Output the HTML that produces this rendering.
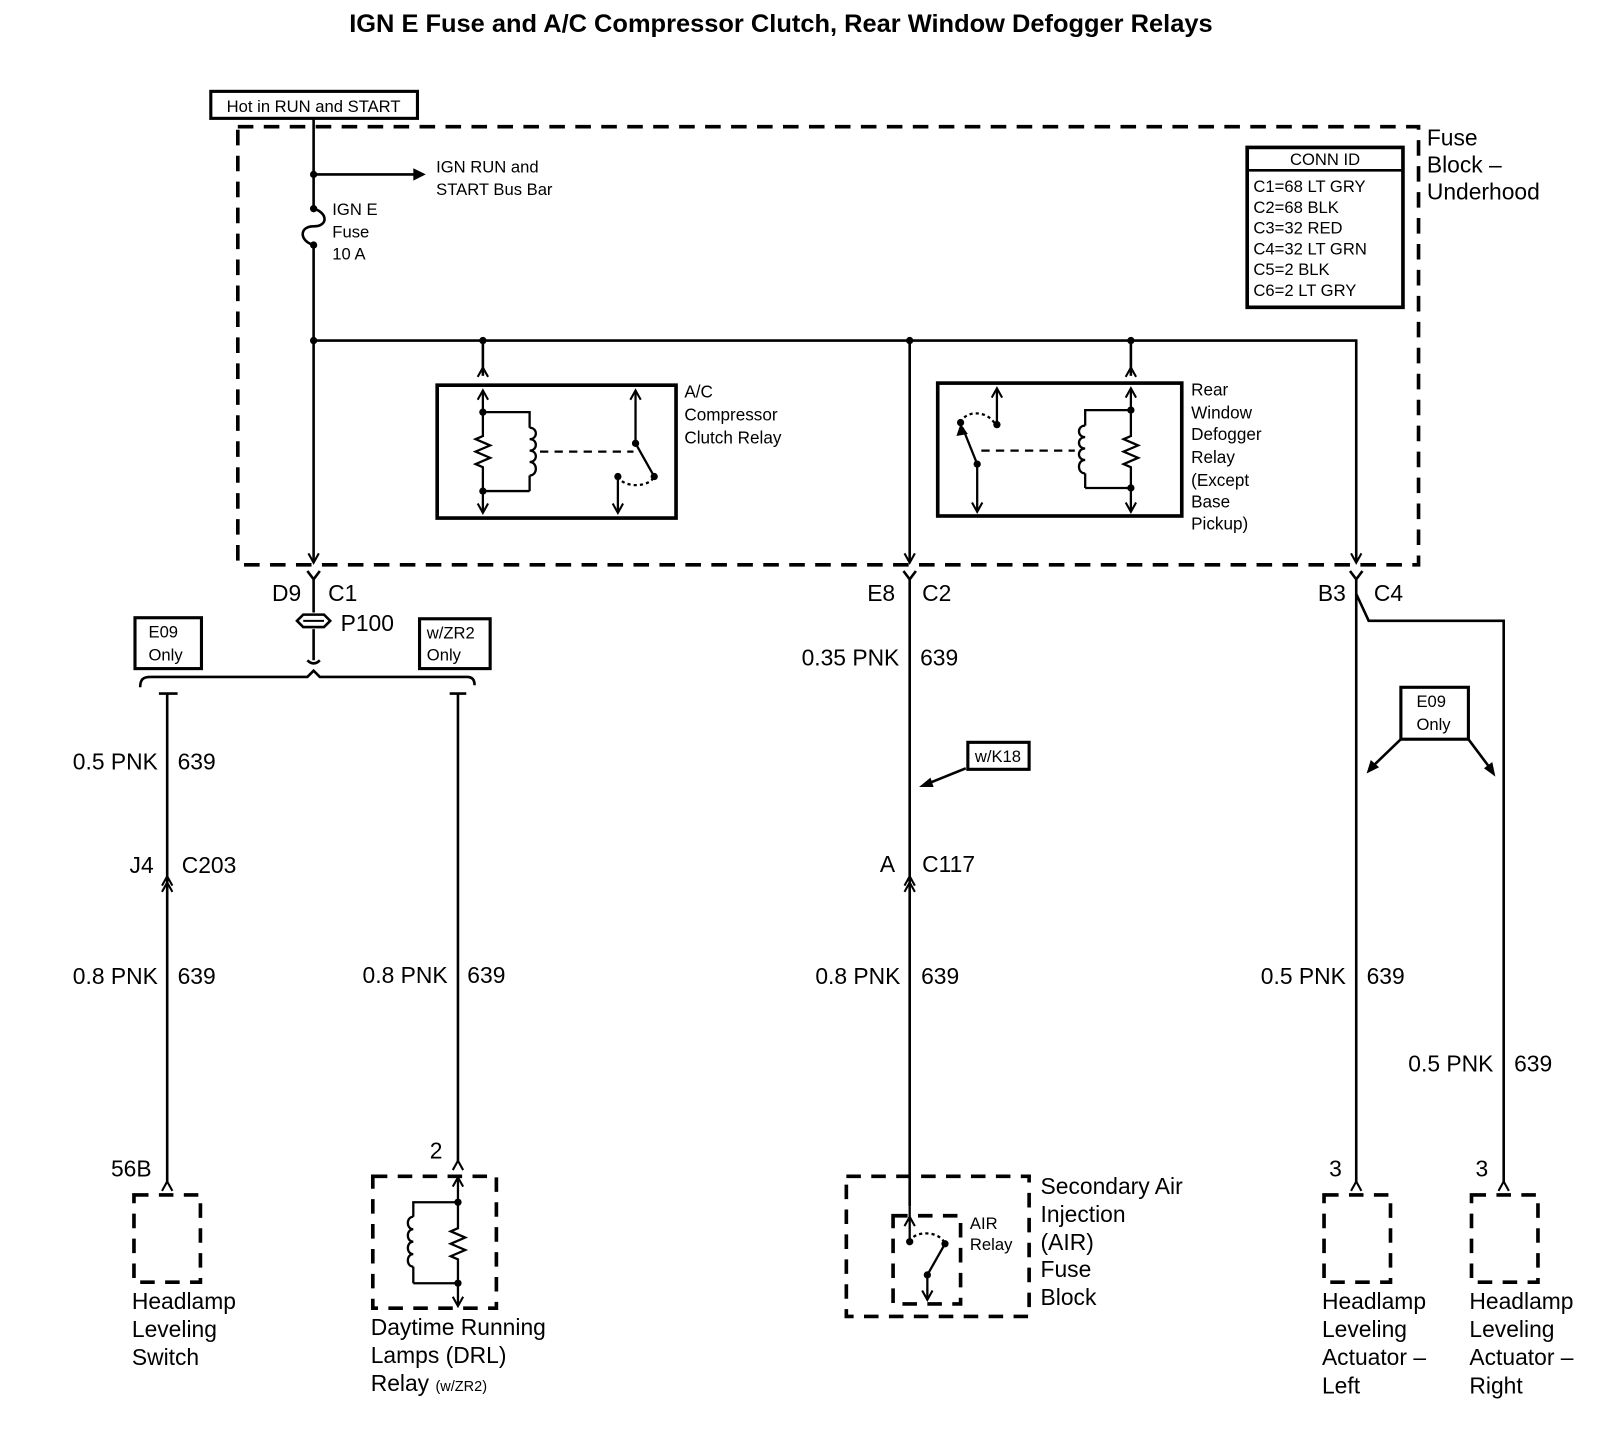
<!DOCTYPE html>
<html><head><meta charset="utf-8"><style>
html,body{margin:0;padding:0;background:#fff;}
svg{display:block;}
text{font-family:"Liberation Sans",sans-serif;fill:#000;}
</style></head><body>
<svg width="1620" height="1440" viewBox="0 0 1560 1387" preserveAspectRatio="none" xmlns="http://www.w3.org/2000/svg">
<defs>
<path id="dn" d="M-5,-9 L0,0 L5,-9" fill="none" stroke="#000" stroke-width="2"/>
<path id="up" d="M-5,9 L0,0 L5,9" fill="none" stroke="#000" stroke-width="2"/>
</defs>
<text x="752" y="31" font-size="24.5" font-weight="bold" text-anchor="middle">IGN E Fuse and A/C Compressor Clutch, Rear Window Defogger Relays</text>

<rect x="203" y="88" width="199" height="26" fill="none" stroke="#000" stroke-width="3"/>
<text x="302" y="108" font-size="16" text-anchor="middle">Hot in RUN and START</text>

<rect x="229" y="122" width="1137" height="422" fill="none" stroke="#000" stroke-width="3.5" stroke-dasharray="15 10"/>
<text x="1374" y="140" font-size="22">Fuse</text>
<text x="1374" y="166" font-size="22">Block –</text>
<text x="1374" y="192" font-size="22">Underhood</text>

<rect x="1201" y="142" width="150" height="154" fill="none" stroke="#000" stroke-width="3.5"/>
<line x1="1201" y1="164" x2="1351" y2="164" stroke="#000" stroke-width="2.5"/>
<g font-size="16">
<text x="1276" y="159" text-anchor="middle">CONN ID</text>
<text x="1207" y="185">C1=68 LT GRY</text>
<text x="1207" y="205">C2=68 BLK</text>
<text x="1207" y="225">C3=32 RED</text>
<text x="1207" y="245">C4=32 LT GRN</text>
<text x="1207" y="265">C5=2 BLK</text>
<text x="1207" y="285">C6=2 LT GRY</text>
</g>

<g fill="none" stroke="#000" stroke-width="2.5">
<path d="M302,114 V201"/>
<path d="M302,201 C316,205 316,218 302,218 C288,218 288,232 302,236"/>
<path d="M302,236 V542"/>
<path d="M302,168 H400"/>
<path d="M302,328 H1306 V542"/>
<path d="M465,328 V362"/>
<path d="M1089,328 V362"/>
<path d="M876,328 V542"/>
</g>
<path d="M398,162 L410,168 L398,174 Z" fill="#000"/>
<g fill="#000">
<circle cx="302" cy="168" r="3.5"/><circle cx="302" cy="201" r="3.5"/><circle cx="302" cy="236" r="3.5"/>
<circle cx="302" cy="328" r="3.5"/><circle cx="465" cy="328" r="3.5"/><circle cx="876" cy="328" r="3.5"/><circle cx="1089" cy="328" r="3.5"/>
</g>
<use href="#up" x="465" y="354"/><use href="#up" x="1089" y="354"/>
<use href="#dn" x="302" y="542"/><use href="#dn" x="876" y="542"/><use href="#dn" x="1306" y="542"/>
<g font-size="16">
<text x="420" y="166">IGN RUN and</text>
<text x="420" y="188">START Bus Bar</text>
<text x="320" y="207">IGN E</text>
<text x="320" y="229">Fuse</text>
<text x="320" y="250">10 A</text>
</g>

<rect x="421" y="371" width="230" height="128" fill="none" stroke="#000" stroke-width="3.5"/>
<g fill="none" stroke="#000" stroke-width="2.2">
<path d="M465,377 V420 L458,423 L472,429 L458,435 L472,441 L458,447 L465,450 V493"/>
<path d="M465,397 H510 V412 M510,473 H465 M510,473 V458"/>
<path d="M510,412 c8,0 8,11 0,11 c8,0 8,11 0,11 c8,0 8,11 0,11 c8,0 8,13 0,13"/>
<path d="M520,435 H610" stroke-dasharray="8 6"/>
<path d="M612,377 V427 L630,459"/>
<path d="M595,459 V493"/>
<path d="M595,459 C600,470 625,470 630,459" stroke-dasharray="3 3"/>
</g>
<use href="#up" x="465" y="376"/><use href="#dn" x="465" y="494"/>
<use href="#up" x="612" y="376"/><use href="#dn" x="595" y="494"/>
<g fill="#000"><circle cx="465" cy="397" r="3.5"/><circle cx="465" cy="473" r="3.5"/><circle cx="612" cy="427" r="3.5"/><circle cx="630" cy="459" r="3.5"/><circle cx="595" cy="459" r="3.5"/></g>
<g font-size="16.5">
<text x="659" y="383">A/C</text>
<text x="659" y="405">Compressor</text>
<text x="659" y="427">Clutch Relay</text>
</g>

<rect x="903" y="369" width="235" height="128" fill="none" stroke="#000" stroke-width="3.5"/>
<g fill="none" stroke="#000" stroke-width="2.2">
<path d="M1089,375 V420 L1082,423 L1096,429 L1082,435 L1096,441 L1082,447 L1089,450 V492"/>
<path d="M1089,395 H1045 V410 M1045,470 H1089 M1045,470 V456"/>
<path d="M1045,410 c-8,0 -8,11 0,11 c-8,0 -8,11 0,11 c-8,0 -8,11 0,11 c-8,0 -8,13 0,13"/>
<path d="M945,434 H1035" stroke-dasharray="8 6"/>
<path d="M960,375 V409"/>
<path d="M941,447 V492 M941,447 L927,412"/>
<path d="M925,407 C930,395 950,395 958,408" stroke-dasharray="3 3"/>
</g>
<use href="#up" x="1089" y="374"/><use href="#dn" x="1089" y="493"/>
<use href="#up" x="960" y="374"/><use href="#dn" x="941" y="493"/>
<path d="M921,420 L925,408 L932,418 Z" fill="#000"/>
<g fill="#000"><circle cx="1089" cy="395" r="3.5"/><circle cx="1089" cy="470" r="3.5"/><circle cx="960" cy="409" r="3.5"/><circle cx="925" cy="407" r="3.5"/><circle cx="941" cy="447" r="3.5"/></g>
<g font-size="16.5">
<text x="1147" y="381">Rear</text>
<text x="1147" y="403">Window</text>
<text x="1147" y="424">Defogger</text>
<text x="1147" y="446">Relay</text>
<text x="1147" y="468">(Except</text>
<text x="1147" y="489">Base</text>
<text x="1147" y="510">Pickup)</text>
</g>

<g fill="none" stroke="#000" stroke-width="2.5">
<path d="M296,550 L302,558 L308,550 M302,558 V590"/>
<path d="M302,606 V630 M296,636 C300,640 304,640 308,636 M302,630 V636"/>
<path d="M135,662 C135,654 138,652 145,652 H296 L302,646 L308,652 H450 C455,652 457,655 457,660"/>
<path d="M153,668 H171 M161,668 V1140"/>
<path d="M433,668 H449 M441,668 V1120"/>
<path d="M870,550 L876,558 L882,550 M876,558 V1162"/>
<path d="M1300,550 L1306,558 L1312,550 M1306,558 V1140"/>
<path d="M1306,572 L1318,598 H1448 V1140"/>
</g>
<path d="M286,598 L292,592 H312 L318,598 L312,604 H292 Z" fill="#fff" stroke="#000" stroke-width="2.5"/>
<line x1="292" y1="598" x2="312" y2="598" stroke="#000" stroke-width="2"/>
<g font-size="22">
<text x="290" y="579" text-anchor="end">D9</text><text x="316" y="579">C1</text>
<text x="328" y="608">P100</text>
<text x="862" y="579" text-anchor="end">E8</text><text x="888" y="579">C2</text>
<text x="1296" y="579" text-anchor="end">B3</text><text x="1323" y="579">C4</text>
</g>
<rect x="130" y="595" width="64" height="49" fill="none" stroke="#000" stroke-width="3"/>
<text x="143" y="614" font-size="16">E09</text><text x="143" y="636" font-size="16">Only</text>
<rect x="404" y="596" width="68" height="48" fill="none" stroke="#000" stroke-width="3"/>
<text x="411" y="615" font-size="16">w/ZR2</text><text x="411" y="636" font-size="16">Only</text>

<use href="#up" x="161" y="844"/><use href="#up" x="161" y="850"/>
<use href="#up" x="876" y="844"/><use href="#up" x="876" y="850"/>
<use href="#up" x="161" y="1138"/>
<use href="#up" x="441" y="1118"/>
<use href="#up" x="1306" y="1138"/><use href="#up" x="1448" y="1138"/>

<g font-size="22">
<text x="152" y="741" text-anchor="end">0.5 PNK</text><text x="171" y="741">639</text>
<text x="148" y="841" text-anchor="end">J4</text><text x="175" y="841">C203</text>
<text x="152" y="948" text-anchor="end">0.8 PNK</text><text x="171" y="948">639</text>
<text x="146" y="1133" text-anchor="end">56B</text>
<text x="431" y="947" text-anchor="end">0.8 PNK</text><text x="450" y="947">639</text>
<text x="420" y="1116" text-anchor="middle">2</text>
<text x="866" y="641" text-anchor="end">0.35 PNK</text><text x="886" y="641">639</text>
<text x="862" y="840" text-anchor="end">A</text><text x="888" y="840">C117</text>
<text x="867" y="948" text-anchor="end">0.8 PNK</text><text x="887" y="948">639</text>
<text x="1296" y="948" text-anchor="end">0.5 PNK</text><text x="1316" y="948">639</text>
<text x="1438" y="1032" text-anchor="end">0.5 PNK</text><text x="1458" y="1032">639</text>
<text x="1286" y="1133" text-anchor="middle">3</text>
<text x="1427" y="1133" text-anchor="middle">3</text>
</g>

<rect x="932" y="715" width="59" height="26" fill="none" stroke="#000" stroke-width="3"/>
<text x="961" y="734" font-size="16" text-anchor="middle">w/K18</text>
<line x1="930" y1="740" x2="893" y2="755" stroke="#000" stroke-width="2.5"/>
<path d="M885,758 L896,749 L899,758 Z" fill="#000"/>

<rect x="1349" y="662" width="65" height="50" fill="none" stroke="#000" stroke-width="3"/>
<text x="1364" y="681" font-size="16">E09</text><text x="1364" y="703" font-size="16">Only</text>
<line x1="1349" y1="712" x2="1322" y2="738" stroke="#000" stroke-width="2.5"/>
<path d="M1316,745 L1320,732 L1328,739 Z" fill="#000"/>
<line x1="1414" y1="712" x2="1435" y2="740" stroke="#000" stroke-width="2.5"/>
<path d="M1440,748 L1429,740 L1437,734 Z" fill="#000"/>

<g fill="none" stroke="#000" stroke-width="3.5" stroke-dasharray="14 10">
<rect x="129" y="1151" width="64" height="84"/>
<rect x="359" y="1133" width="119" height="127"/>
<rect x="815" y="1133" width="176" height="135"/>
<rect x="860" y="1171" width="65" height="85"/>
<rect x="1275" y="1151" width="64" height="84"/>
<rect x="1417" y="1151" width="64" height="84"/>
</g>
<g fill="none" stroke="#000" stroke-width="2.2">
<path d="M441,1135 V1183 L434,1186 L448,1192 L434,1198 L448,1204 L434,1210 L441,1213 V1256"/>
<path d="M441,1158 H398 V1172 M398,1236 H441 M398,1236 V1220"/>
<path d="M398,1172 c-7,0 -7,12 0,12 c-7,0 -7,12 0,12 c-7,0 -7,12 0,12 c-7,0 -7,12 0,12"/>
</g>
<use href="#up" x="441" y="1134"/><use href="#dn" x="441" y="1258"/>
<g fill="#000"><circle cx="441" cy="1158" r="3.5"/><circle cx="441" cy="1236" r="3.5"/></g>
<g fill="none" stroke="#000" stroke-width="2.2">
<path d="M876,1162 V1196"/>
<path d="M893,1250 V1228 L910,1198"/>
<path d="M876,1196 C880,1185 905,1185 910,1198" stroke-dasharray="3 3"/>
</g>
<use href="#up" x="876" y="1172"/><use href="#dn" x="893" y="1252"/>
<g fill="#000"><circle cx="876" cy="1196" r="3.5"/><circle cx="910" cy="1198" r="3.5"/><circle cx="893" cy="1228" r="3.5"/></g>
<text x="934" y="1184" font-size="16">AIR</text><text x="934" y="1204" font-size="16">Relay</text>

<g font-size="22">
<text x="127" y="1261">Headlamp</text><text x="127" y="1288">Leveling</text><text x="127" y="1315">Switch</text>
<text x="357" y="1286">Daytime Running</text><text x="357" y="1313">Lamps (DRL)</text><text x="357" y="1340">Relay <tspan font-size="14">(w/ZR2)</tspan></text>
<text x="1002" y="1150">Secondary Air</text><text x="1002" y="1177">Injection</text><text x="1002" y="1204">(AIR)</text><text x="1002" y="1230">Fuse</text><text x="1002" y="1257">Block</text>
<text x="1273" y="1261">Headlamp</text><text x="1273" y="1288">Leveling</text><text x="1273" y="1315">Actuator –</text><text x="1273" y="1342">Left</text>
<text x="1415" y="1261">Headlamp</text><text x="1415" y="1288">Leveling</text><text x="1415" y="1315">Actuator –</text><text x="1415" y="1342">Right</text>
</g>
</svg>
</body></html>
